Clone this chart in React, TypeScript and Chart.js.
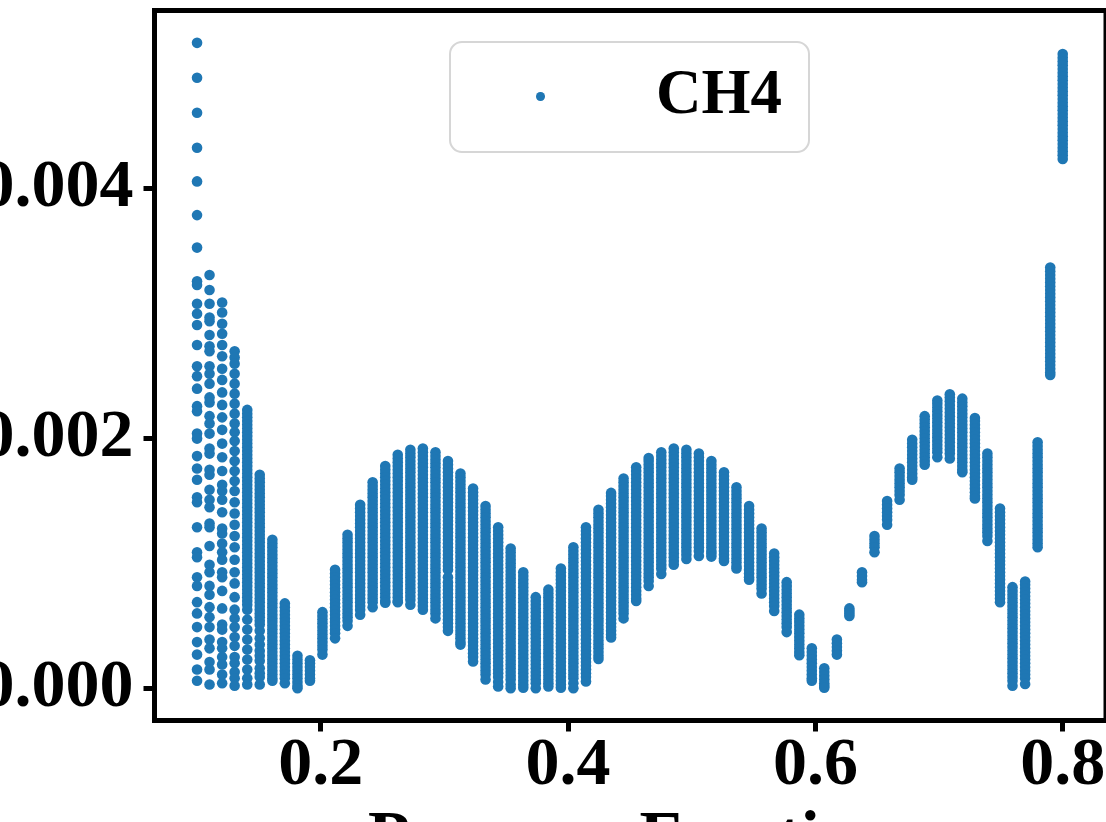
import React, { useEffect, useRef } from "react";
import { Chart, registerables } from "chart.js";

Chart.register(...registerables);

const seriesName = "CH4";
const xTickValues = [0.2, 0.4, 0.6, 0.8];
const yTickValues = [0, 0.002, 0.004];
const axisTitle = "Pressure Fraction";
const valueUnit = 1e-4;

const pressureFractions = [
  0.1, 0.1101, 0.1203, 0.1304, 0.1406, 0.1507, 0.1609, 0.171, 0.1812, 0.1913,
  0.2014, 0.2116, 0.2217, 0.2319, 0.242, 0.2522, 0.2623, 0.2725, 0.2826, 0.2928,
  0.3029, 0.313, 0.3232, 0.3333, 0.3435, 0.3536, 0.3638, 0.3739, 0.3841, 0.3942,
  0.4043, 0.4145, 0.4246, 0.4348, 0.4449, 0.4551, 0.4652, 0.4754, 0.4855, 0.4957,
  0.5058, 0.5159, 0.5261, 0.5362, 0.5464, 0.5565, 0.5667, 0.5768, 0.587, 0.5971,
  0.6072, 0.6174, 0.6275, 0.6377, 0.6478, 0.658, 0.6681, 0.6783, 0.6884, 0.6986,
  0.7087, 0.7188, 0.729, 0.7391, 0.7493, 0.7594, 0.7696, 0.7797, 0.7899, 0.8,
];

// CH4 values at each pressure fraction, in units of 1e-4.
const ch4Values: number[][] = [
  [51.7,48.9,46.1,43.3,40.6,37.9,35.3,32.6,32.3,30.8,30,29.1,27.5,25.8,25,24,22.6,22.2,20.4,20,18.6,17.6,16.7,15.3,14.9,12.9,10.9,10.5,8.9,8.2,6.9,6,4.9,3.7,2.7,1.5,0.6],
  [33.1,31.9,30.8,29.7,29.4,28.3,27.4,27,25.8,25.2,24.4,23.3,22.9,21.8,21.2,20.4,19.2,18.8,17.5,17.1,15.9,15.1,14.5,13.2,12.9,11.4,9.9,9.3,8.2,7.5,6.5,5.7,4.9,3.9,3.2,2.1,1.5,0.3],
  [30.9,30.1,29.2,28.4,27.5,26.6,25.6,24.7,23.7,22.7,21.7,20.7,19.6,18.5,17.4,16.3,15.8,15.1,14.1,12.8,12.4,11.6,10.9,10.3,9.3,8.9,7.8,6.4,5.1,4.7,3.7,3.2,2.5,1.9,1.1,0.4],
  [27,26.5,26,25.2,24.4,23.6,22.8,22,21.2,20.5,19.8,19,18.2,17.4,16.6,15.8,14.9,14,13.1,12.2,11.3,10.3,9.3,8.4,7.3,6.3,5.6,4.9,4.1,3.4,2.5,2,1.3,0.8,0.2],
  [22.3,22,21.7,21.4,21.1,20.8,20.5,20.2,19.9,19.6,19.3,19,18.7,18.4,18.1,17.8,17.5,17.2,16.9,16.6,16.3,16,15.7,15.4,15.1,14.8,14.5,14.2,13.9,13.6,13.3,13,12.7,12.4,12.1,11.8,11.5,11.2,10.9,10.6,10.3,10,9.7,9.4,9.1,8.8,8.5,8.2,7.9,7.6,7.3,7,6.7,6.3,5.5,4.7,3.9,3.1,2.3,1.5,0.8,0.3],
  [17.1,16.8,16.5,16.2,15.9,15.6,15.3,15,14.7,14.4,14.1,13.8,13.5,13.2,12.9,12.6,12.3,12,11.7,11.4,11.1,10.8,10.5,10.2,9.9,9.6,9.3,9,8.7,8.4,8.1,7.8,7.5,7.2,6.9,6.6,6.3,6,5.7,5.4,5.1,4.6,4,3.5,3,2.6,2.2,1.6,1.2,0.9,0.3],
  [11.9,11.6,11.3,11,10.7,10.4,10.1,9.8,9.5,9.2,8.9,8.6,8.3,8,7.7,7.4,7.1,6.8,6.5,6.2,5.9,5.6,5.3,5,4.7,4.4,4.1,3.8,3.5,3.2,2.9,2.6,2.3,2,1.7,1.4,1.1,0.8,0.6],
  [6.8,6.5,6.2,5.9,5.6,5.3,5,4.7,4.4,4.1,3.8,3.5,3.2,2.9,2.6,2.3,2,1.7,1.4,1.1,0.8,0.4],
  [2.6,2.3,2,1.7,1.4,1.1,0.8,0.5,0.2,0],
  [2.25,2,1.7,1.4,1.1,0.8,0.6],
  [6.1,5.8,5.5,5.2,4.9,4.6,4.3,4,3.7,3.4,3.1,2.7],
  [9.5,9.2,8.9,8.6,8.3,8,7.7,7.4,7.1,6.8,6.5,6.2,5.9,5.6,5.3,5,4.7,4.4,4],
  [12.3,12,11.7,11.4,11.1,10.8,10.5,10.2,9.9,9.6,9.3,9,8.7,8.4,8.1,7.8,7.5,7.2,6.9,6.6,6.3,6,5.7,5.4,5],
  [14.7,14.4,14.1,13.8,13.5,13.2,12.9,12.6,12.3,12,11.7,11.4,11.1,10.8,10.5,10.2,9.9,9.6,9.3,9,8.7,8.4,8.1,7.8,7.5,7.2,6.9,6.6,6.3,5.9],
  [16.5,16.2,15.9,15.6,15.3,15,14.7,14.4,14.1,13.8,13.5,13.2,12.9,12.6,12.3,12,11.7,11.4,11.1,10.8,10.5,10.2,9.9,9.6,9.3,9,8.7,8.4,8.1,7.8,7.5,7.2,6.9,6.5],
  [17.8,17.5,17.2,16.9,16.6,16.3,16,15.7,15.4,15.1,14.8,14.5,14.2,13.9,13.6,13.3,13,12.7,12.4,12.1,11.8,11.5,11.2,10.9,10.6,10.3,10,9.7,9.4,9.1,8.8,8.5,8.2,7.9,7.6,7.3,7,6.85],
  [18.7,18.4,18.1,17.8,17.5,17.2,16.9,16.6,16.3,16,15.7,15.4,15.1,14.8,14.5,14.2,13.9,13.6,13.3,13,12.7,12.4,12.1,11.8,11.5,11.2,10.9,10.6,10.3,10,9.7,9.4,9.1,8.8,8.5,8.2,7.9,7.6,7.3,7,6.9],
  [19.1,18.8,18.5,18.2,17.9,17.6,17.3,17,16.7,16.4,16.1,15.8,15.5,15.2,14.9,14.6,14.3,14,13.7,13.4,13.1,12.8,12.5,12.2,11.9,11.6,11.3,11,10.7,10.4,10.1,9.8,9.5,9.2,8.9,8.6,8.3,8,7.7,7.4,7.1,6.7],
  [19.2,18.9,18.6,18.3,18,17.7,17.4,17.1,16.8,16.5,16.2,15.9,15.6,15.3,15,14.7,14.4,14.1,13.8,13.5,13.2,12.9,12.6,12.3,12,11.7,11.4,11.1,10.8,10.5,10.2,9.9,9.6,9.3,9,8.7,8.4,8.1,7.8,7.5,7.2,6.9,6.6,6.3],
  [18.9,18.6,18.3,18,17.7,17.4,17.1,16.8,16.5,16.2,15.9,15.6,15.3,15,14.7,14.4,14.1,13.8,13.5,13.2,12.9,12.6,12.3,12,11.7,11.4,11.1,10.8,10.5,10.2,9.9,9.6,9.3,9,8.7,8.4,8.1,7.8,7.5,7.2,6.9,6.6,6.3,6,5.6],
  [18.2,17.9,17.6,17.3,17,16.7,16.4,16.1,15.8,15.5,15.2,14.9,14.6,14.3,14,13.7,13.4,13.1,12.8,12.5,12.2,11.9,11.6,11.3,11,10.7,10.4,10.1,9.8,9.5,8.9,8.5,8.2,7.9,7.6,7.3,7,6.7,6.4,6.1,5.8,5.5,5.2,4.9,4.6],
  [17.2,16.9,16.6,16.3,16,15.7,15.4,15.1,14.8,14.5,14.2,13.9,13.6,13.3,13,12.7,12.4,12.1,11.8,11.5,11.2,10.9,10.6,10.3,10,9.7,9.4,9.1,8.8,8.5,8.2,7.9,7.6,7.3,7,6.7,6.4,6.1,5.8,5.5,5.2,4.9,4.6,4.3,4,3.7,3.5],
  [16,15.7,15.4,15.1,14.8,14.5,14.2,13.9,13.6,13.3,13,12.7,12.4,12.1,11.8,11.5,11.2,10.9,10.6,10.3,10,9.7,9.4,9.1,8.8,8.5,8.2,7.9,7.6,7.3,7,6.7,6.4,6.1,5.8,5.5,5.2,4.9,4.6,4.3,4,3.7,3.4,3.1,2.8,2.5,2.15],
  [14.6,14.3,14,13.7,13.4,13.1,12.8,12.5,12.2,11.9,11.6,11.3,11,10.7,10.4,10.1,9.8,9.5,9.2,8.9,8.6,8.3,8,7.7,7.4,7.1,6.8,6.5,6.2,5.9,5.6,5.3,5,4.7,4.4,4.1,3.8,3.5,3.2,2.9,2.6,2.3,2,1.7,1.4,1.1,0.7],
  [12.9,12.6,12.3,12,11.7,11.4,11.1,10.8,10.5,10.2,9.9,9.6,9.3,9,8.7,8.4,8.1,7.8,7.5,7.2,6.9,6.6,6.3,6,5.7,5.4,5.1,4.8,4.5,4.2,3.9,3.6,3.3,3,2.7,2.4,2.1,1.8,1.5,1.2,0.9,0.5,0.15],
  [11.2,10.9,10.6,10.3,10,9.7,9.4,9.1,8.8,8.5,8.2,7.9,7.6,7.3,7,6.7,6.4,6.1,5.8,5.5,5.2,4.9,4.6,4.3,4,3.7,3.4,3.1,2.8,2.5,2.2,1.9,1.6,1.3,1,0.7,0.3,0],
  [9.3,9,8.7,8.4,8.1,7.8,7.5,7.2,6.9,6.6,6.3,6,5.7,5.4,5.1,4.8,4.5,4.2,3.9,3.6,3.3,3,2.7,2.4,2.1,1.8,1.5,1.2,0.9,0.6,0.3,0.05],
  [7.3,7,6.7,6.4,6.1,5.8,5.5,5.2,4.9,4.6,4.3,4,3.7,3.4,3.1,2.8,2.5,2.2,1.9,1.6,1.3,1,0.7,0.4,0],
  [7.9,7.6,7.3,7,6.7,6.4,6.1,5.8,5.5,5.2,4.9,4.6,4.3,4,3.7,3.4,3.1,2.8,2.5,2.2,1.9,1.6,1.3,1,0.7,0.4,0.15],
  [9.6,9.3,9,8.7,8.4,8.1,7.8,7.5,7.2,6.9,6.6,6.3,6,5.7,5.4,5.1,4.8,4.5,4.2,3.9,3.6,3.3,3,2.7,2.4,2.1,1.8,1.5,1.2,0.9,0.6,0.3,0.05],
  [11.3,11,10.7,10.4,10.1,9.8,9.5,9.2,8.9,8.6,8.3,8,7.7,7.4,7.1,6.8,6.5,6.2,5.9,5.6,5.3,5,4.7,4.4,4.1,3.8,3.5,3.2,2.9,2.6,2.3,2,1.7,1.4,1.1,0.8,0.4,0],
  [12.9,12.6,12.3,12,11.7,11.4,11.1,10.8,10.5,10.2,9.9,9.6,9.3,9,8.7,8.4,8.1,7.8,7.5,7.2,6.9,6.6,6.3,6,5.7,5.4,5.1,4.8,4.5,4.2,3.9,3.6,3.3,3,2.7,2.4,2.1,1.8,1.5,1.2,0.9,0.55],
  [14.3,14,13.7,13.4,13.1,12.8,12.5,12.2,11.9,11.6,11.3,11,10.7,10.4,10.1,9.8,9.5,9.2,8.9,8.6,8.3,8,7.7,7.4,7.1,6.8,6.5,6.2,5.9,5.6,5.3,5,4.7,4.4,4.1,3.8,3.5,3.2,2.9,2.6,2.35],
  [15.65,15.4,15.1,14.8,14.5,14.2,13.9,13.6,13.3,13,12.7,12.4,12.1,11.8,11.5,11.2,10.9,10.6,10.3,10,9.7,9.4,9.1,8.8,8.5,8.2,7.9,7.6,7.3,7,6.7,6.4,6.1,5.8,5.5,5.2,4.9,4.6,4.3,4.07],
  [16.8,16.5,16.2,15.9,15.6,15.3,15,14.7,14.4,14.1,13.8,13.5,13.2,12.9,12.6,12.3,12,11.7,11.4,11.1,10.8,10.5,10.2,9.9,9.6,9.3,9,8.7,8.4,8.1,7.8,7.5,7.2,6.9,6.6,6.3,6,5.6],
  [17.7,17.4,17.1,16.8,16.5,16.2,15.9,15.6,15.3,15,14.7,14.4,14.1,13.8,13.5,13.2,12.9,12.6,12.3,12,11.7,11.4,11.1,10.8,10.5,10.2,9.9,9.6,9.3,9,8.7,8.4,8.1,7.8,7.5,7.2,7],
  [18.45,18.2,17.9,17.6,17.3,17,16.7,16.4,16.1,15.8,15.5,15.2,14.9,14.6,14.3,14,13.7,13.4,13.1,12.8,12.5,12.2,11.9,11.6,11.3,11,10.7,10.4,10.1,9.8,9.5,9.2,8.9,8.6,8.2],
  [18.9,18.6,18.3,18,17.7,17.4,17.1,16.8,16.5,16.2,15.9,15.6,15.3,15,14.7,14.4,14.1,13.8,13.5,13.2,12.9,12.6,12.3,12,11.7,11.4,11.1,10.8,10.5,10.2,9.9,9.6,9.15],
  [19.2,18.9,18.6,18.3,18,17.7,17.4,17.1,16.8,16.5,16.2,15.9,15.6,15.3,15,14.7,14.4,14.1,13.8,13.5,13.2,12.9,12.6,12.3,12,11.7,11.4,11.1,10.8,10.5,10.2,9.9],
  [19.1,18.8,18.5,18.2,17.9,17.6,17.3,17,16.7,16.4,16.1,15.8,15.5,15.2,14.9,14.6,14.3,14,13.7,13.4,13.1,12.8,12.5,12.2,11.9,11.6,11.3,11,10.7,10.35],
  [18.8,18.5,18.2,17.9,17.6,17.3,17,16.7,16.4,16.1,15.8,15.5,15.2,14.9,14.6,14.3,14,13.7,13.4,13.1,12.8,12.5,12.2,11.9,11.6,11.3,11,10.6],
  [18.2,17.9,17.6,17.3,17,16.7,16.4,16.1,15.8,15.5,15.2,14.9,14.6,14.3,14,13.7,13.4,13.1,12.8,12.5,12.2,11.9,11.6,11.3,11,10.8,10.55],
  [17.3,17,16.7,16.4,16.1,15.8,15.5,15.2,14.9,14.6,14.3,14,13.7,13.4,13.1,12.8,12.5,12.2,11.9,11.6,11.3,11,10.7,10.4,10.2],
  [16.1,15.8,15.5,15.2,14.9,14.6,14.3,14,13.7,13.4,13.1,12.8,12.5,12.2,11.9,11.6,11.3,11,10.7,10.4,10.1,9.8,9.6],
  [14.6,14.3,14,13.7,13.4,13.1,12.8,12.5,12.2,11.9,11.6,11.3,11,10.7,10.4,10.1,9.8,9.5,9.2,8.9,8.7],
  [12.8,12.5,12.2,11.9,11.6,11.3,11,10.7,10.4,10.1,9.8,9.5,9.2,8.9,8.6,8.3,8,7.6],
  [10.8,10.5,10.2,9.9,9.6,9.3,9,8.7,8.4,8.1,7.8,7.5,7.2,6.9,6.6,6.2],
  [8.5,8.2,7.9,7.6,7.3,7,6.7,6.4,6.1,5.8,5.5,5.2,4.9,4.5],
  [5.9,5.6,5.3,5,4.7,4.4,4.1,3.8,3.5,3.2,2.9,2.65],
  [3.2,2.9,2.6,2.3,2,1.7,1.4,1.1,0.8,0.6],
  [1.6,1.3,1,0.7,0.4,0.2,0.04],
  [3.9,3.6,3.3,3,2.7],
  [6.4,6.2,6,5.8],
  [9.3,9,8.7,8.5],
  [12.2,11.9,11.6,11.3,10.9],
  [15,14.7,14.4,14.1,13.8,13.5,13.1],
  [17.6,17.3,17,16.7,16.4,16.1,15.8,15.5,15.1],
  [19.9,19.6,19.3,19,18.7,18.4,18.1,17.8,17.5,17.2,16.9,16.7],
  [21.8,21.5,21.2,20.9,20.6,20.3,20,19.7,19.4,19.1,18.8,18.5,18.2,17.9],
  [23.05,22.8,22.5,22.2,21.9,21.6,21.3,21,20.7,20.4,20.1,19.8,19.5,19.2,18.9,18.5],
  [23.55,23.3,23,22.7,22.4,22.1,21.8,21.5,21.2,20.9,20.6,20.3,20,19.7,19.4,19.1,18.8,18.4],
  [23.2,22.9,22.6,22.3,22,21.7,21.4,21.1,20.8,20.5,20.2,19.9,19.6,19.3,19,18.7,18.4,18.1,17.8,17.5,17.3],
  [21.65,21.4,21.1,20.8,20.5,20.2,19.9,19.6,19.3,19,18.7,18.4,18.1,17.8,17.5,17.2,16.9,16.6,16.3,16,15.7,15.4,15.2],
  [18.8,18.5,18.2,17.9,17.6,17.3,17,16.7,16.4,16.1,15.8,15.5,15.2,14.9,14.6,14.3,14,13.7,13.4,13.1,12.8,12.5,12.2,11.8],
  [14.4,14.1,13.8,13.5,13.2,12.9,12.6,12.3,12,11.7,11.4,11.1,10.8,10.5,10.2,9.9,9.6,9.3,9,8.7,8.4,8.1,7.8,7.5,7.2,6.9],
  [8.1,7.8,7.5,7.2,6.9,6.6,6.3,6,5.7,5.4,5.1,4.8,4.5,4.2,3.9,3.6,3.3,3,2.7,2.4,2.1,1.8,1.5,1.2,0.9,0.6,0.2],
  [8.55,8.3,8,7.7,7.4,7.1,6.8,6.5,6.2,5.9,5.6,5.3,5,4.7,4.4,4.1,3.8,3.5,3.2,2.9,2.6,2.3,2,1.7,1.4,1.1,0.8,0.35],
  [19.7,19.4,19.1,18.8,18.5,18.2,17.9,17.6,17.3,17,16.7,16.4,16.1,15.8,15.5,15.2,14.9,14.6,14.3,14,13.7,13.4,13.1,12.8,12.5,12.2,11.9,11.6,11.3],
  [33.7,33.4,33.1,32.8,32.5,32.2,31.9,31.6,31.3,31,30.7,30.4,30.1,29.8,29.5,29.2,28.9,28.6,28.3,28,27.7,27.4,27.1,26.8,26.5,26.2,25.9,25.6,25.3,25.1],
  [50.8,50.5,50.2,49.9,49.6,49.3,49,48.7,48.4,48.1,47.8,47.5,47.2,46.9,46.6,46.3,46,45.7,45.4,45.1,44.8,44.5,44.2,43.9,43.6,43.3,43,42.7,42.4],
];

const SERIF = '"Liberation Serif", "Times New Roman", serif';
const BLUE = "#1f77b4";

const frame = {
  id: "frame",
  afterDatasetsDraw(chart: any) {
    const { ctx, chartArea: a } = chart;
    ctx.save();
    ctx.strokeStyle = "#000";
    ctx.lineWidth = 5;
    ctx.strokeRect(a.left, a.top, a.right - a.left, a.bottom - a.top);
    ctx.restore();
  },
};

export default function App() {
  const ref = useRef<HTMLCanvasElement>(null);

  useEffect(() => {
    const points = pressureFractions.flatMap((x, i) =>
      ch4Values[i].map((v) => ({ x, y: v * valueUnit }))
    );
    const chart = new Chart(ref.current as HTMLCanvasElement, {
      type: "scatter",
      data: {
        datasets: [
          {
            label: seriesName,
            data: points,
            backgroundColor: BLUE,
            borderWidth: 0,
            pointRadius: 5.3,
            pointHoverRadius: 5.3,
            clip: false as any,
          },
        ],
      },
      options: {
        animation: false,
        responsive: false,
        devicePixelRatio: 1,
        layout: { autoPadding: false, padding: { left: 0, top: 10.5, right: 40, bottom: 0 } },
        plugins: { legend: { display: false }, tooltip: { enabled: false }, title: { display: false } },
        scales: {
          x: {
            type: "linear",
            min: 0.0656,
            max: 0.835,
            border: { display: false },
            grid: { drawOnChartArea: false, drawTicks: true, tickLength: 11, tickWidth: 5, tickColor: "#000" },
            afterBuildTicks: (s: any) => {
              s.ticks = xTickValues.map((value) => ({ value }));
            },
            afterFit: (s: any) => {
              s.height = 181.5;
              s.paddingLeft = 0;
              s.paddingRight = 0;
            },
            ticks: {
              autoSkip: false,
              maxRotation: 0,
              color: "#000",
              padding: -6,
              font: { family: SERIF, weight: "bold", size: 68 },
              callback: (v: any) => Number(v).toFixed(1),
            },
            title: {
              display: true,
              text: axisTitle,
              color: "#000",
              font: { family: SERIF, weight: "bold", size: 69 },
              padding: { top: 0, bottom: 19 },
            },
          },
          y: {
            type: "linear",
            min: -0.000258,
            max: 0.005429,
            border: { display: false },
            grid: { drawOnChartArea: false, drawTicks: true, tickLength: 11, tickWidth: 5, tickColor: "#000" },
            afterBuildTicks: (s: any) => {
              s.ticks = yTickValues.map((value) => ({ value }));
            },
            afterFit: (s: any) => {
              s.width = 214.5;
              s.paddingTop = 0;
              s.paddingBottom = 0;
            },
            ticks: {
              autoSkip: false,
              color: "#000",
              padding: 10,
              font: { family: SERIF, weight: "bold", size: 68 },
              callback: (v: any) => Number(v).toFixed(3),
            },
          },
        },
      },
      plugins: [frame],
    } as any);
    return () => chart.destroy();
  }, []);

  return (
    <div style={{ position: "fixed", left: 0, top: 0, width: 1106, height: 822, overflow: "hidden", background: "#fff" }}>
      <canvas ref={ref} width={1206} height={902} style={{ position: "absolute", left: -60, top: 0, width: 1206, height: 902 }} />
      <div
        style={{
          position: "absolute",
          left: 449,
          top: 41,
          width: 361,
          height: 112,
          boxSizing: "border-box",
          border: "2.5px solid #d6d6d6",
          borderRadius: 13,
          background: "rgba(255,255,255,0.8)",
        }}
      />
      <div style={{ position: "absolute", left: 535.5, top: 91.5, width: 9, height: 9.5, borderRadius: "50%", background: BLUE }} />
      <div
        style={{
          position: "absolute",
          left: 656,
          top: 54,
          lineHeight: "76px",
          fontFamily: SERIF,
          fontWeight: "bold",
          fontSize: 63,
          color: "#000",
        }}
      >
        {seriesName}
      </div>
    </div>
  );
}
